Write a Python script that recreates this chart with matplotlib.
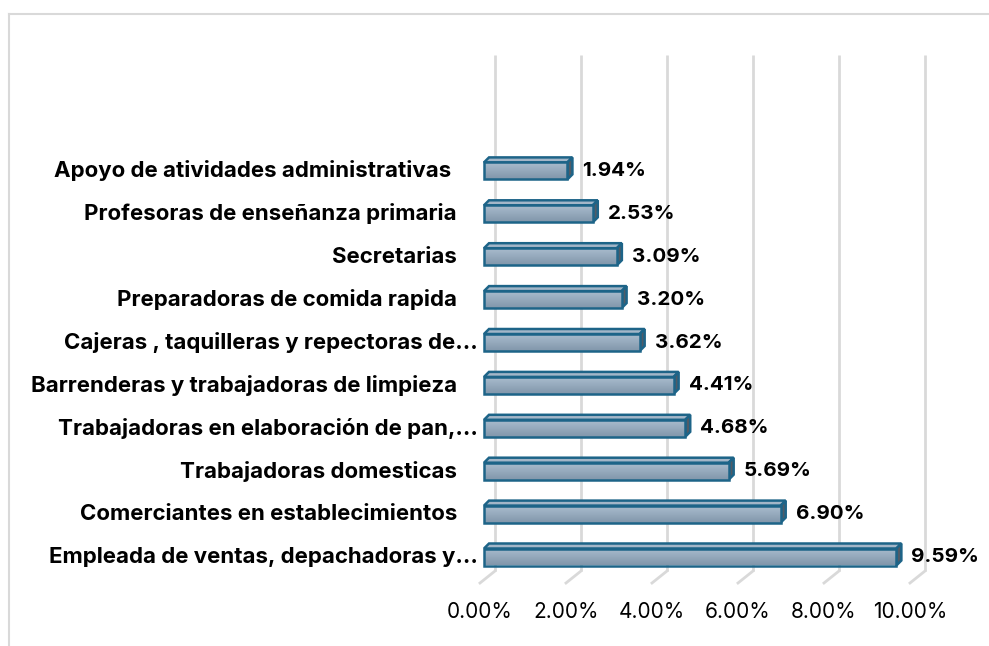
import matplotlib
matplotlib.use("Agg")
import matplotlib.pyplot as plt
from matplotlib.patches import Polygon
from matplotlib.colors import LinearSegmentedColormap
import numpy as np

categories = [
    "Empleada de ventas, depachadoras y...",
    "Comerciantes en establecimientos    ",
    "Trabajadoras domesticas    ",
    "Trabajadoras en elaboración de pan,...",
    "Barrenderas y trabajadoras de limpieza    ",
    "Cajeras , taquilleras y repectoras de...",
    "Preparadoras de comida rapida    ",
    "Secretarias    ",
    "Profesoras de enseñanza primaria    ",
    "Apoyo de atividades administrativas     ",
]
values = [9.59, 6.90, 5.69, 4.68, 4.41, 3.62, 3.20, 3.09, 2.53, 1.94]
ticks = [0, 2, 4, 6, 8, 10]
tick_labels = ["0.00%", "2.00%", "4.00%", "6.00%", "8.00%", "10.00%"]

W, H = 989, 646
fig = plt.figure(figsize=(W / 100, H / 100), dpi=100)
ax = fig.add_axes([0, 0, 1, 1])
ax.axis("off")

# pixel geometry -> data units
PX_X = 43.0     # px per 1 percent
PX_Y = 42.9     # px per category
X0 = 484.0      # px of value 0 (front plane)
Y0 = 557.0      # px of first category centre
ax.set_xlim(-X0 / PX_X, (W - X0) / PX_X)
ax.set_ylim((Y0 - H) / PX_Y, Y0 / PX_Y)

def dx(px):
    return px / PX_X

def dy(px):
    return px / PX_Y

font = ["Inter", "DejaVu Sans"]
grid_c = "#d9d9d9"

# gridlines (back wall + floor diagonal)
for t in ticks:
    xb = t + dx(11)
    ax.plot([xb, xb], [dy(Y0 - 55), dy(Y0 - 571)], color=grid_c, lw=2, solid_capstyle="butt", zorder=1)
    ax.plot([xb, t + dx(-4)], [dy(Y0 - 571), dy(Y0 - 583)], color=grid_c, lw=2, zorder=1)

# 3D bars
bh = dy(17)
ddx, ddy = dx(5), dy(5)
edge = "#1d6488"
grad = LinearSegmentedColormap.from_list("g", ["#8196ab", "#a9bccd"])
gimg = np.linspace(0, 1, 64).reshape(-1, 1)
for i, v in enumerate(values):
    yb, yt = i - bh / 2, i + bh / 2
    top = Polygon([(0, yt), (v, yt), (v + ddx, yt + ddy), (ddx, yt + ddy)], closed=True,
                  facecolor="#a3b6c8", edgecolor=edge, lw=1.8, zorder=2, joinstyle="miter")
    side = Polygon([(v, yb), (v + ddx, yb + ddy), (v + ddx, yt + ddy), (v, yt)], closed=True,
                   facecolor="#505b67", edgecolor=edge, lw=1.8, zorder=2, joinstyle="miter")
    ax.add_patch(top)
    ax.add_patch(side)
    front = Polygon([(0, yb), (v, yb), (v, yt), (0, yt)], closed=True,
                    facecolor="none", edgecolor=edge, lw=1.8, zorder=4, joinstyle="miter")
    im = ax.imshow(gimg, cmap=grad, origin="lower", extent=[0, v, yb, yt],
                   aspect="auto", zorder=3, interpolation="bilinear")
    ax.add_patch(front)
    im.set_clip_path(front)
    ax.text(v + ddx + dx(10), i, f"{v:.2f}%", ha="left", va="center",
            fontsize=14.8, fontweight="bold", family=font, color="black")
    ax.text(dx(478 - X0), i, categories[i], ha="right", va="center",
            fontsize=16, fontweight="bold", family=font, color="black")

for t, lab in zip(ticks, tick_labels):
    ax.text(t + dx(-4), dy(Y0 - 612), lab, ha="center", va="center",
            fontsize=15, family=font, color="black")

# chart border (top and left)
ax.plot([dx(9 - X0), dx(W - X0)], [dy(Y0 - 14), dy(Y0 - 14)], color=grid_c, lw=1.5, clip_on=False)
ax.plot([dx(9 - X0), dx(9 - X0)], [dy(Y0 - 14), dy(Y0 - H)], color=grid_c, lw=1.5, clip_on=False)

fig.savefig("out.png", dpi=100)
